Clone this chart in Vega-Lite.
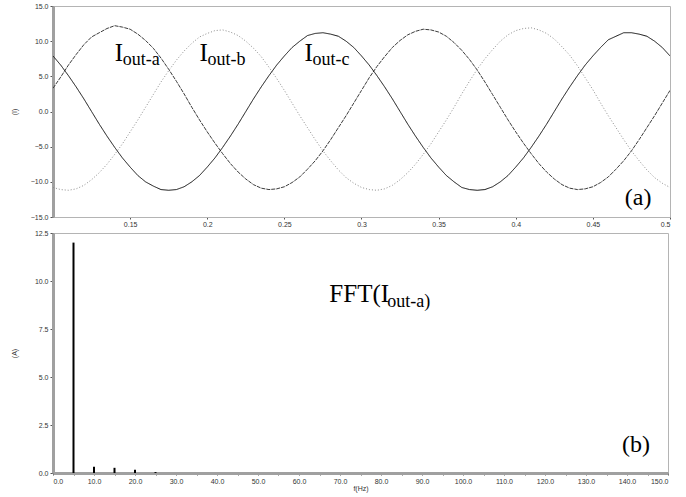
{
  "$schema": "https://vega.github.io/schema/vega-lite/v6.json",
  "autosize": {"type": "pad"},
  "padding": {"left": 9, "top": 1, "right": 10, "bottom": 1},
  "spacing": 0,
  "background": "white",
  "config": {
    "view": {"stroke": "#b4b4b4", "strokeWidth": 1},
    "axis": {"labelFont": "Liberation Sans", "labelFontSize": 7, "labelColor": "#333", "titleFont": "Liberation Sans", "titleFontSize": 7, "titleFontWeight": "normal", "titleColor": "#333", "grid": false, "tickColor": "#555", "tickSize": 3, "labelPadding": 2, "domainColor": "#a0a0a0", "labelOverlap": false},
    "axisY": {"domainWidth": 3, "titleX": -36, "titlePadding": 0}
  },
  "datasets": {
    "waves": [
      {"t":0.100,"a":3.3,"b":-10.8,"c":7.9},{"t":0.105,"a":4.9,"b":-11.1,"c":6.6},{"t":0.110,"a":6.6,"b":-11.2,"c":5.1},{"t":0.115,"a":8.1,"b":-11.0,"c":3.5},{"t":0.120,"a":9.5,"b":-10.5,"c":1.8},{"t":0.125,"a":10.6,"b":-9.7,"c":0.0},{"t":0.130,"a":11.2,"b":-8.7,"c":-1.8},{"t":0.135,"a":11.8,"b":-7.5,"c":-3.5},{"t":0.140,"a":12.2,"b":-6.1,"c":-5.1},{"t":0.145,"a":12.0,"b":-4.6,"c":-6.6},
      {"t":0.150,"a":11.7,"b":-2.9,"c":-7.9},{"t":0.155,"a":11.0,"b":-1.2,"c":-9.1},{"t":0.160,"a":10.1,"b":0.6,"c":-10.0},{"t":0.165,"a":9.0,"b":2.4,"c":-10.6},{"t":0.170,"a":7.6,"b":4.2,"c":-11.1},{"t":0.175,"a":6.0,"b":5.8,"c":-11.2},{"t":0.180,"a":4.3,"b":7.3,"c":-11.1},{"t":0.185,"a":2.5,"b":8.6,"c":-10.7},{"t":0.190,"a":0.6,"b":9.7,"c":-10.0},{"t":0.195,"a":-1.2,"b":10.6,"c":-9.1},
      {"t":0.200,"a":-2.9,"b":11.1,"c":-7.9},{"t":0.205,"a":-4.5,"b":11.5,"c":-6.6},{"t":0.210,"a":-6.0,"b":11.6,"c":-5.1},{"t":0.215,"a":-7.4,"b":11.3,"c":-3.5},{"t":0.220,"a":-8.6,"b":10.8,"c":-1.8},{"t":0.225,"a":-9.6,"b":10.0,"c":0.0},{"t":0.230,"a":-10.4,"b":9.0,"c":1.8},{"t":0.235,"a":-10.9,"b":7.8,"c":3.5},{"t":0.240,"a":-11.1,"b":6.3,"c":5.1},{"t":0.245,"a":-11.0,"b":4.7,"c":6.6},
      {"t":0.250,"a":-10.7,"b":3.0,"c":7.9},{"t":0.255,"a":-10.1,"b":1.2,"c":9.1},{"t":0.260,"a":-9.3,"b":-0.6,"c":10.0},{"t":0.265,"a":-8.2,"b":-2.3,"c":10.8},{"t":0.270,"a":-7.0,"b":-4.0,"c":11.1},{"t":0.275,"a":-5.6,"b":-5.6,"c":11.2},{"t":0.280,"a":-4.0,"b":-7.0,"c":11.0},{"t":0.285,"a":-2.3,"b":-8.3,"c":10.7},{"t":0.290,"a":-0.6,"b":-9.4,"c":10.0},{"t":0.295,"a":1.2,"b":-10.2,"c":9.1},
      {"t":0.300,"a":3.0,"b":-10.8,"c":7.9},{"t":0.305,"a":4.8,"b":-11.1,"c":6.6},{"t":0.310,"a":6.4,"b":-11.2,"c":5.1},{"t":0.315,"a":7.8,"b":-11.0,"c":3.5},{"t":0.320,"a":9.1,"b":-10.5,"c":1.8},{"t":0.325,"a":10.1,"b":-9.7,"c":0.0},{"t":0.330,"a":10.9,"b":-8.7,"c":-1.8},{"t":0.335,"a":11.4,"b":-7.5,"c":-3.5},{"t":0.340,"a":11.7,"b":-6.1,"c":-5.1},{"t":0.345,"a":11.6,"b":-4.6,"c":-6.6},
      {"t":0.350,"a":11.3,"b":-2.9,"c":-7.9},{"t":0.355,"a":10.7,"b":-1.2,"c":-9.1},{"t":0.360,"a":9.8,"b":0.6,"c":-10.0},{"t":0.365,"a":8.7,"b":2.5,"c":-10.8},{"t":0.370,"a":7.4,"b":4.3,"c":-11.1},{"t":0.375,"a":5.9,"b":6.0,"c":-11.2},{"t":0.380,"a":4.2,"b":7.5,"c":-11.1},{"t":0.385,"a":2.4,"b":8.8,"c":-10.7},{"t":0.390,"a":0.6,"b":10.0,"c":-10.0},{"t":0.395,"a":-1.2,"b":10.9,"c":-9.1},
      {"t":0.400,"a":-2.9,"b":11.5,"c":-7.9},{"t":0.405,"a":-4.5,"b":11.8,"c":-6.6},{"t":0.410,"a":-6.0,"b":11.9,"c":-5.1},{"t":0.415,"a":-7.4,"b":11.6,"c":-3.5},{"t":0.420,"a":-8.6,"b":11.1,"c":-1.8},{"t":0.425,"a":-9.6,"b":10.3,"c":0.0},{"t":0.430,"a":-10.4,"b":9.2,"c":1.8},{"t":0.435,"a":-10.9,"b":8.0,"c":3.5},{"t":0.440,"a":-11.1,"b":6.5,"c":5.1},{"t":0.445,"a":-11.0,"b":4.8,"c":6.6},
      {"t":0.450,"a":-10.7,"b":3.1,"c":7.9},{"t":0.455,"a":-10.1,"b":1.2,"c":9.1},{"t":0.460,"a":-9.3,"b":-0.6,"c":10.2},{"t":0.465,"a":-8.2,"b":-2.3,"c":10.7},{"t":0.470,"a":-7.0,"b":-4.0,"c":11.2},{"t":0.475,"a":-5.6,"b":-5.6,"c":11.2},{"t":0.480,"a":-4.0,"b":-7.0,"c":11.0},{"t":0.485,"a":-2.3,"b":-8.3,"c":10.7},{"t":0.490,"a":-0.6,"b":-9.4,"c":10.0},{"t":0.495,"a":1.2,"b":-10.2,"c":9.1},
      {"t":0.500,"a":3.0,"b":-10.8,"c":7.9}
    ],
    "labels": [
      {"t":0.140,"v":7.2,"main":"I","sub":"out-a"},
      {"t":0.195,"v":7.2,"main":"I","sub":"out-b"},
      {"t":0.263,"v":7.2,"main":"I","sub":"out-c"}
    ],
    "panelA": [{"t":0.4707,"v":-13.3,"txt":"(a)"}],
    "fft": [
      {"f":5,"amp":12.0},{"f":10,"amp":0.32},{"f":15,"amp":0.27},{"f":20,"amp":0.17},{"f":25,"amp":0.05}
    ],
    "fftLabel": [{"f":67.4,"v":8.9,"main":"FFT(I","sub":"out-a)"}],
    "panelB": [{"f":138.8,"v":1.1,"txt":"(b)"}]
  },
  "vconcat": [
    {
      "width": 617,
      "height": 211,
      "layer": [
        {
          "data": {"name": "waves"},
          "transform": [{"fold": ["a", "b", "c"], "as": ["series", "value"]}],
          "mark": {"type": "line", "strokeWidth": 1, "clip": true},
          "encoding": {
            "x": {"field": "t", "type": "quantitative", "scale": {"domain": [0.1, 0.5], "nice": false, "zero": false},
                  "axis": {"values": [0.15,0.2,0.25,0.3,0.35,0.4,0.45,0.5], "tickCount": 8, "format": "~f", "title": null, "domainColor": "#b4b4b4", "domainWidth": 1, "tickSize": 2, "labelPadding": 1}},
            "y": {"field": "value", "type": "quantitative", "scale": {"domain": [-15, 15], "nice": false},
                  "axis": {"values": [-15,-10,-5,0,5,10,15], "tickCount": 7, "format": ".1f", "title": "(I)"}},
            "color": {"field": "series", "type": "nominal", "scale": {"domain": ["a","b","c"], "range": ["#3c3c3c","#8c8c8c","#111111"]}, "legend": null},
            "strokeDash": {"field": "series", "type": "nominal", "scale": {"domain": ["a","b","c"], "range": [[4,1],[1,2],[1,0]]}, "legend": null}
          }
        },
        {
          "data": {"name": "labels"},
          "mark": {"type": "text", "font": "Liberation Serif", "fontSize": 25, "align": "left", "baseline": "alphabetic", "color": "#000"},
          "encoding": {"x": {"field": "t", "type": "quantitative"}, "y": {"field": "v", "type": "quantitative"}, "text": {"field": "main"}}
        },
        {
          "data": {"name": "labels"},
          "mark": {"type": "text", "font": "Liberation Serif", "fontSize": 18, "align": "left", "baseline": "alphabetic", "dx": 8, "dy": 4, "color": "#000"},
          "encoding": {"x": {"field": "t", "type": "quantitative"}, "y": {"field": "v", "type": "quantitative"}, "text": {"field": "sub"}}
        },
        {
          "data": {"name": "panelA"},
          "mark": {"type": "text", "font": "Liberation Serif", "fontSize": 24, "align": "left", "baseline": "alphabetic", "color": "#000"},
          "encoding": {"x": {"field": "t", "type": "quantitative"}, "y": {"field": "v", "type": "quantitative"}, "text": {"field": "txt"}}
        },
        {
          "mark": {"type": "rule", "color": "#333", "strokeWidth": 1},
          "encoding": {"x": {"datum": 0.5}, "y": {"datum": -15}, "y2": {"datum": 15}}
        }
      ]
    },
    {
      "width": 615,
      "height": 240,
      "layer": [
        {
          "data": {"name": "fft"},
          "mark": {"type": "rule", "strokeWidth": 2, "color": "#000"},
          "encoding": {
            "x": {"field": "f", "type": "quantitative", "scale": {"domain": [0, 150], "nice": false},
                  "axis": {"values": [0,5,10,15,20,25,30,35,40,45,50,55,60,65,70,75,80,85,90,95,100,105,110,115,120,125,130,135,140,145,150], "tickCount": 31,
                           "labelExpr": "datum.value % 10 == 0 ? format(datum.value, '.1f') : ''", "title": "f(Hz)", "domainWidth": 3, "tickSize": 2, "titlePadding": 0}},
            "y": {"field": "amp", "type": "quantitative", "scale": {"domain": [0, 12.5], "nice": false},
                  "axis": {"values": [0,2.5,5,7.5,10,12.5], "tickCount": 6, "format": ".1f", "title": "(A)"}},
            "y2": {"datum": 0}
          }
        },
        {
          "data": {"name": "fftLabel"},
          "mark": {"type": "text", "font": "Liberation Serif", "fontSize": 25, "align": "left", "baseline": "alphabetic", "color": "#000"},
          "encoding": {"x": {"field": "f", "type": "quantitative"}, "y": {"field": "v", "type": "quantitative"}, "text": {"field": "main"}}
        },
        {
          "data": {"name": "fftLabel"},
          "mark": {"type": "text", "font": "Liberation Serif", "fontSize": 18, "align": "left", "baseline": "alphabetic", "dx": 58, "dy": 5, "color": "#000"},
          "encoding": {"x": {"field": "f", "type": "quantitative"}, "y": {"field": "v", "type": "quantitative"}, "text": {"field": "sub"}}
        },
        {
          "data": {"name": "panelB"},
          "mark": {"type": "text", "font": "Liberation Serif", "fontSize": 24, "align": "left", "baseline": "alphabetic", "color": "#000"},
          "encoding": {"x": {"field": "f", "type": "quantitative"}, "y": {"field": "v", "type": "quantitative"}, "text": {"field": "txt"}}
        },
        {
          "mark": {"type": "rule", "color": "#333", "strokeWidth": 1},
          "encoding": {"x": {"datum": 150}, "y": {"datum": 0}, "y2": {"datum": 12.5}}
        }
      ]
    }
  ]
}
